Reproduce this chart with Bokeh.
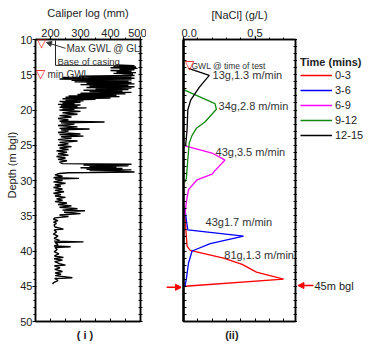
import numpy as np
from bokeh.plotting import figure
from bokeh.models import (Range1d, LinearAxis, FixedTicker, Label, Arrow, NormalHead,
                          Legend, LegendItem, PrintfTickFormatter, Title)
from bokeh.layouts import row
from bokeh.embed import file_html
from bokeh.resources import INLINE

# ---------------- data ----------------
caliper_depth = [13.6, 13.7, 13.8, 13.9, 14.0, 14.1, 14.2, 14.3, 14.4, 14.5, 14.6, 14.7, 14.8, 14.9, 15.0, 15.1,
                 15.2, 15.3, 15.4, 15.5, 15.6, 15.7, 15.8, 15.9, 16.0, 16.1, 16.2, 16.3, 16.4, 16.5, 16.6, 16.7,
                 16.8, 16.9, 17.0, 17.1, 17.2, 17.3, 17.4, 17.5, 17.6, 17.7, 17.8, 17.9, 18.0, 18.1, 18.2, 18.3,
                 18.4, 18.5, 18.6, 18.7, 18.8, 18.9, 19.0, 19.1, 19.2, 19.3, 19.4, 19.5, 19.6, 19.7, 19.8, 19.9,
                 20.0, 20.2, 20.4, 20.6, 20.8, 21.0, 21.2, 21.4, 21.6, 21.7, 21.8, 22.0, 22.2, 22.4, 22.6, 22.7,
                 22.8, 23.0, 23.2, 23.4, 23.5, 23.7, 23.8, 24.0, 24.2, 24.4, 24.6, 24.8, 25.0, 25.2, 25.4, 25.6,
                 25.8, 26.0, 26.2, 26.4, 26.6, 26.8, 27.0, 27.2, 27.4, 27.6, 27.7, 27.8, 27.9, 28.0, 28.1, 28.2,
                 28.3, 28.4, 28.5, 28.6, 28.7, 28.8, 28.9, 29.0, 29.2, 29.4, 29.6, 29.7, 29.8, 30.0, 30.2, 30.4,
                 30.6, 30.8, 31.0, 31.2, 31.4, 31.6, 31.8, 32.0, 32.2, 32.4, 32.6, 32.8, 33.0, 33.2, 33.4, 33.6,
                 33.8, 34.0, 34.2, 34.3, 34.5, 34.7, 34.9, 35.1, 35.3, 35.5, 35.7, 35.9, 36.1, 36.3, 36.6, 36.9,
                 37.0, 37.3, 37.6, 37.9, 38.2, 38.5, 38.6, 38.7, 38.8, 39.1, 39.3, 39.4, 39.5, 39.8, 40.1, 40.4,
                 40.7, 40.9, 41.1, 41.3, 41.5, 41.8, 42.0, 42.1, 42.4, 42.6, 42.9, 43.1, 43.3, 43.5, 43.8, 43.9,
                 44.2, 44.5, 44.7]
caliper_mm = [420, 480, 410, 485, 400, 490, 430, 480, 400, 470, 420, 485, 410, 475, 440, 480,
              295, 470, 240, 480, 230, 470, 270, 460, 280, 470, 320, 480, 300, 460, 330, 480,
              320, 470, 350, 460, 310, 440, 330, 470, 300, 450, 290, 420, 260, 430, 250, 400,
              240, 350, 250, 310, 230, 300, 240, 280, 225, 300, 235, 290, 230, 320, 240, 280,
              230, 300, 240, 290, 230, 270, 225, 260, 230, 380, 235, 280, 225, 290, 230, 330,
              235, 260, 225, 300, 230, 310, 235, 270, 225, 290, 230, 260, 225, 270, 230, 260,
              220, 255, 225, 260, 220, 250, 225, 255, 230, 240, 470, 310, 460, 330, 420, 300,
              440, 320, 470, 330, 430, 480, 260, 230, 215, 240, 210, 295, 215, 240, 210, 250,
              215, 235, 210, 240, 215, 245, 210, 235, 215, 250, 220, 240, 215, 255, 225, 270,
              230, 290, 240, 315, 245, 300, 230, 260, 215, 210, 225, 210, 220, 212, 215, 243,
              212, 220, 210, 225, 212, 230, 212, 310, 215, 225, 212, 267, 215, 222, 212, 228,
              213, 243, 212, 240, 214, 230, 250, 213, 232, 214, 240, 215, 235, 216, 273, 214,
              225, 210, 207]

caliper_ticks = [200, 300, 400, 500]
caliper_minor = [250, 350, 450]
depth_ticks = [10, 15, 20, 25, 30, 35, 40, 45, 50]
depth_minor = [d for d in range(10, 51) if d % 5 != 0]
depth_all = list(range(10, 51))
nacl_ticks = [0.0, 0.5]
nacl_minor = [0.1, 0.2, 0.3, 0.4, 0.6, 0.7]
nacl_all = [0.0, 0.1, 0.2, 0.3, 0.4, 0.5, 0.6, 0.7]

series_names = ["0-3", "3-6", "6-9", "9-12", "12-15"]
series_colors = ["#ff0000", "#0000ff", "#ff00ff", "#108a10", "#000000"]

t0_3_depth = [35.0, 36.5, 38.0, 39.3, 39.9, 41.0, 41.9, 43.0, 44.0, 45.0]
t0_3_conc = [0.01, 0.015, 0.02, 0.025, 0.047, 0.28, 0.41, 0.51, 0.70, 0.01]
t3_6_depth = [34.0, 35.6, 37.0, 37.9, 38.95, 40.0, 41.7, 44.0, 45.0]
t3_6_conc = [0.01, 0.02, 0.03, 0.42, 0.187, 0.06, 0.035, 0.02, 0.01]
t6_9_depth = [25.1, 26.1, 27.1, 28.6, 29.1, 29.9, 31.3, 33.0, 35.0]
t6_9_conc = [0.01, 0.2, 0.29, 0.22, 0.2, 0.095, 0.035, 0.02, 0.01]
t9_12_depth = [17.1, 19.1, 19.9, 21.7, 22.6, 23.6, 24.7, 27.1, 29.7, 30.2]
t9_12_conc = [0.0, 0.22, 0.23, 0.15, 0.09, 0.06, 0.04, 0.03, 0.02, 0.01]
t12_15_depth = [14.1, 15.1, 16.8, 18.6, 20.0, 22.8, 25.0]
t12_15_conc = [0.035, 0.18, 0.11, 0.05, 0.03, 0.025, 0.015]

tracer_labels = ["13g,1.3 m/min", "34g,2.8 m/min", "43g,3.5 m/min", "43g1.7 m/min", "81g,1.3 m/min"]

FONT = "Liberation Sans"
TXT = "#222222"
H = 345
NB = "\u00a0"


def add_axis(p, side, ticks, minor, fmt=None, tin=2, tout=3, mtin=None, mtout=None,
             lw=1.5, label=None, label_standoff=3):
    ax = LinearAxis(ticker=FixedTicker(ticks=ticks, minor_ticks=minor))
    ax.axis_line_color = "black"
    ax.axis_line_width = lw
    ax.major_tick_in = tin
    ax.major_tick_out = tout
    ax.minor_tick_in = tin - 1 if mtin is None else mtin
    ax.minor_tick_out = max(tout - 1, 0) if mtout is None else mtout
    ax.major_tick_line_color = "black"
    ax.minor_tick_line_color = "black"
    ax.major_tick_line_width = 1.2
    ax.minor_tick_line_width = 1
    ax.major_label_standoff = 0
    ax.major_label_text_font = FONT
    ax.major_label_text_font_size = "11px"
    ax.major_label_text_color = TXT
    if fmt:
        ax.formatter = PrintfTickFormatter(format=fmt)
    if label:
        ax.axis_label = label
        ax.axis_label_text_font = FONT
        ax.axis_label_text_font_size = "11px"
        ax.axis_label_text_font_style = "normal"
        ax.axis_label_text_color = TXT
        ax.axis_label_standoff = label_standoff
    p.add_layout(ax, side)
    return ax


def lbl(p, x, y, text, size=11, color=TXT, align="left", bold=False, font=FONT):
    p.add_layout(Label(x=x, y=y, text=text, text_font=font, text_font_size=f"{size}px",
                       text_color=color, text_align=align, text_baseline="middle",
                       text_font_style="bold" if bold else "normal"))


def title(p, side, text, standoff, bold=False):
    p.add_layout(Title(text=text, align="center", standoff=standoff,
                       text_font=FONT, text_font_size="11px", text_color=TXT,
                       text_font_style="bold" if bold else "normal"), side)


def base_fig(width, x_range, y_range, mbl, mbr, mbt, mbb, outline=True):
    p = figure(width=width, height=H, x_range=x_range, y_range=y_range,
               output_backend="svg", toolbar_location=None,
               x_axis_location=None, y_axis_location=None,
               min_border_left=mbl, min_border_right=mbr, min_border_top=mbt, min_border_bottom=mbb)
    p.xgrid.visible = False
    p.ygrid.visible = False
    p.outline_line_color = "black" if outline else None
    p.outline_line_width = 1.5
    p.background_fill_color = "white"
    p.border_fill_color = "white"
    return p


def red_arrow(p, x0, x1, y, size=6):
    p.add_layout(Arrow(end=NormalHead(size=size, fill_color="#ff0000", line_color="#ff0000"),
                       x_start=x0, y_start=y, x_end=x1, y_end=y,
                       line_color="#ff0000", line_width=1.5))


# ---------------- panel (i): caliper log ----------------
p1 = base_fig(146, Range1d(150, 500), Range1d(50, 10), 35, 6, 36, 22)
add_axis(p1, "above", caliper_ticks, caliper_minor, tin=0, tout=3, mtin=0, mtout=2,
         label="Caliper log (mm)", label_standoff=7)
add_axis(p1, "below", [], caliper_ticks + caliper_minor, tin=3, tout=0, mtin=3, mtout=0)
add_axis(p1, "left", depth_ticks, depth_minor, tin=1, tout=3, mtin=0, mtout=2)
add_axis(p1, "right", [], depth_all, tin=2, tout=2, mtin=2, mtout=2)
title(p1, "left", NB * 10 + "Depth (m bgl)", 0)
title(p1, "below", "( i )" + NB * 2, 10, bold=True)

p1.line(caliper_mm, caliper_depth, line_color="black", line_width=1.4)

# casing bracket annotation
CASING_X, CASING_END_X, CASING_TOP, CASING_DEPTH = 216.7, 426.7, 10.14, 13.67
p1.line([CASING_X, CASING_X, CASING_END_X], [CASING_TOP, CASING_DEPTH, CASING_DEPTH],
        line_color="#222222", line_width=1)

lbl(p1, 253.3, 11.25, "Max GWL @ GL", size=10, color="#333333")
lbl(p1, 223.3, 13.14, "Base of casing", size=9.5, color="#333333")
lbl(p1, 190, 14.95, "min GWL", size=10, color="#333333")
lbl(p1, 170, 10.49, "▽", size=12, color="#ff0000", align="center", font="DejaVu Sans")
lbl(p1, 166.7, 14.88, "▽", size=12, color="#ff0000", align="center", font="DejaVu Sans")
p1.add_layout(Arrow(end=NormalHead(size=5, fill_color="#333333", line_color="#333333"),
                    x_start=250, y_start=11.25, x_end=186.7, y_end=10.42,
                    line_color="#333333", line_width=1))

# ---------------- gap strip (shares the NaCl scale) ----------------
pm = base_fig(35, Range1d(-0.261, -0.016), Range1d(50, 10), 0, 0, 39, 23, outline=False)
red_arrow(pm, -0.12, -0.016, 45.15)

# ---------------- panel (ii): NaCl ----------------
p2 = base_fig(116, Range1d(0, 0.783), Range1d(50, 10), 2, 2, 39, 23)
add_axis(p2, "above", nacl_ticks, nacl_minor, fmt="%.1f", tin=0, tout=3, mtin=0, mtout=2,
         label="[NaCl] (g/L)", label_standoff=5)
add_axis(p2, "below", [], nacl_all, tin=3, tout=0, mtin=3, mtout=0)
add_axis(p2, "left", [], depth_all, tin=3, tout=0, mtin=3, mtout=0, lw=2.5)
add_axis(p2, "right", [], depth_all, tin=2, tout=2, mtin=2, mtout=2)
title(p2, "below", "(ii)" + NB * 5, 10, bold=True)

series = [(t0_3_conc, t0_3_depth), (t3_6_conc, t3_6_depth), (t6_9_conc, t6_9_depth),
          (t9_12_conc, t9_12_depth), (t12_15_conc, t12_15_depth)]
for (xs, ys), col in zip(series, series_colors):
    p2.line(xs, ys, line_color=col, line_width=1.3)

lbl(p2, 0.056, 13.75, "GWL @ time of test", size=8.5, color="#333333")
lbl(p2, 0.042, 13.6, "▽", size=12, color="#ff0000", align="center", font="DejaVu Sans")
label_pos = [(0.203, 15.09), (0.245, 19.47), (0.224, 25.97), (0.154, 35.87), (0.285, 40.53)]
for (x, y), t in zip(label_pos, tracer_labels):
    lbl(p2, x, y, t, size=11, color="#333333")

# ---------------- right strip: legend and 45 m marker ----------------
# the strip continues the NaCl scale to the right of panel (ii); the same series are
# drawn there too (they fall outside its visible range) so the legend can show their swatches
p3 = base_fig(76, Range1d(0.797, 1.329), Range1d(50, 10), 0, 0, 39, 23, outline=False)
items = []
for (xs, ys), name, col in zip(series, series_names, series_colors):
    r = p3.line(xs, ys, line_color=col, line_width=1.3)
    items.append(LegendItem(label=name, renderers=[r]))
legend = Legend(items=items, location=(3, 179), title="Time (mins)",
                title_text_font=FONT, title_text_font_size="11px", title_text_font_style="bold",
                title_text_color=TXT, title_standoff=0,
                label_text_font=FONT, label_text_font_size="11px", label_text_color=TXT,
                glyph_width=32, glyph_height=14, label_height=14, spacing=1, label_standoff=3,
                padding=0, margin=0, border_line_color=None, background_fill_alpha=0)
p3.add_layout(legend)
lbl(p3, 0.916, 44.9, "45m bgl", size=11, color="#222222")
red_arrow(p3, 0.909, 0.8, 44.9)

layout = row(p1, pm, p2, p3)
open("out.html", "w").write(file_html(layout, INLINE))
